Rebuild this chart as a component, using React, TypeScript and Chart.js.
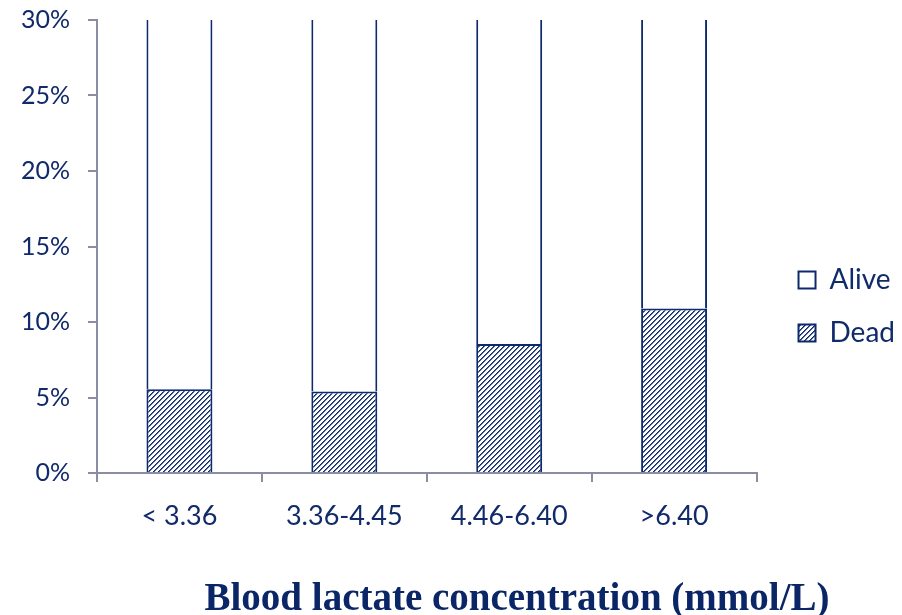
import React, { useEffect, useRef } from "react";
import { Chart, registerables } from "chart.js";

Chart.register(...registerables);

const categories = ["< 3.36", "3.36-4.45", "4.46-6.40", ">6.40"];
const deadPct = [5.55, 5.4, 8.55, 10.9];
const alivePct = deadPct.map((d) => 100 - d);
const yTicks = [0, 5, 10, 15, 20, 25, 30];
const seriesNames = ["Dead", "Alive"];
const xTitle = "Blood lactate concentration (mmol/L)";

const NAVY = "#0c2a6c";
const TEXT = "#102a6a";
const AXIS = "#8b8da2";

function makeHatch(): CanvasPattern | string {
  const c = document.createElement("canvas");
  const s = 5;
  c.width = s;
  c.height = s;
  const g = c.getContext("2d");
  if (!g) return NAVY;
  g.fillStyle = "#ffffff";
  g.fillRect(0, 0, s, s);
  g.fillStyle = NAVY;
  for (let i = 0; i < s; i++) g.fillRect(i, s - 1 - i, 1, 1);
  g.globalAlpha = 0.7;
  for (let i = 0; i < s; i++) g.fillRect((i + 1) % s, s - 1 - i, 1, 1);
  const p = g.createPattern(c, "repeat");
  return p || NAVY;
}

export default function App() {
  const ref = useRef<HTMLCanvasElement | null>(null);

  useEffect(() => {
    if (!ref.current) return;
    const hatch = makeHatch();
    const legendShift = {
      id: "legendShift",
      afterLayout(chart: any) {
        const lg = chart.legend;
        if (!lg) return;
        const dx = 17;
        const dy = -11;
        lg.left += dx;
        lg.right += dx;
        lg.top += dy;
        lg.bottom += dy;
      },
    };
    const chart = new Chart(ref.current, {
      type: "bar",
      data: {
        labels: categories,
        datasets: [
          {
            label: seriesNames[0],
            data: deadPct,
            backgroundColor: hatch as any,
            borderColor: NAVY,
            borderWidth: 2,
            borderSkipped: "start",
          },
          {
            label: seriesNames[1],
            data: alivePct,
            backgroundColor: "#ffffff",
            borderColor: NAVY,
            borderWidth: 2,
            borderSkipped: "start",
          },
        ],
      },
      options: {
        animation: false,
        responsive: true,
        maintainAspectRatio: false,
        datasets: { bar: { barPercentage: 0.4, categoryPercentage: 1 } },
        layout: { padding: { top: 20, right: 14, left: 0, bottom: 0 } },
        plugins: {
          title: { display: false },
          tooltip: { enabled: false },
          legend: {
            position: "right",
            align: "center",
            reverse: true,
            labels: {
              color: TEXT,
              font: { family: "Lato", size: 28 },
              boxWidth: 17,
              boxHeight: 17,
              padding: 25,
            },
          },
        },
        scales: {
          x: {
            stacked: true,
            afterFit: (s: any) => {
              s.height = 142;
            },
            grid: {
              display: true,
              offset: true,
              drawOnChartArea: false,
              drawTicks: true,
              tickLength: 9,
              color: AXIS,
              lineWidth: 2,
            },
            border: { display: true, color: AXIS, width: 2 },
            ticks: {
              color: TEXT,
              font: { family: "Lato", size: 27 },
              padding: 18,
              maxRotation: 0,
            },
          },
          y: {
            stacked: true,
            min: 0,
            max: 30,
            afterFit: (s: any) => {
              s.width = 97;
              s.paddingTop = 0;
              s.paddingBottom = 0;
            },
            afterBuildTicks: (s: any) => {
              s.ticks = yTicks.map((v) => ({ value: v }));
            },
            grid: {
              display: true,
              drawOnChartArea: false,
              drawTicks: true,
              tickLength: 9,
              color: AXIS,
              lineWidth: 2,
            },
            border: { display: true, color: AXIS, width: 2 },
            ticks: {
              color: TEXT,
              font: { family: "Lato", size: 25 },
              padding: 18,
              callback: (v: any) => v + "%",
            },
          },
        },
      },
      plugins: [legendShift],
    });
    return () => chart.destroy();
  }, []);

  return (
    <div style={{ position: "fixed", left: 0, top: 0, width: 902, height: 615, background: "#fff" }}>
      <canvas ref={ref} />
      <div
        style={{
          position: "absolute",
          left: 517,
          top: 577,
          transform: "translateX(-50%)",
          whiteSpace: "nowrap",
          fontFamily: "'Liberation Serif', serif",
          fontWeight: "bold",
          fontSize: 39,
          lineHeight: "39px",
          color: "#0b2666",
        }}
      >
        {xTitle}
      </div>
    </div>
  );
}
